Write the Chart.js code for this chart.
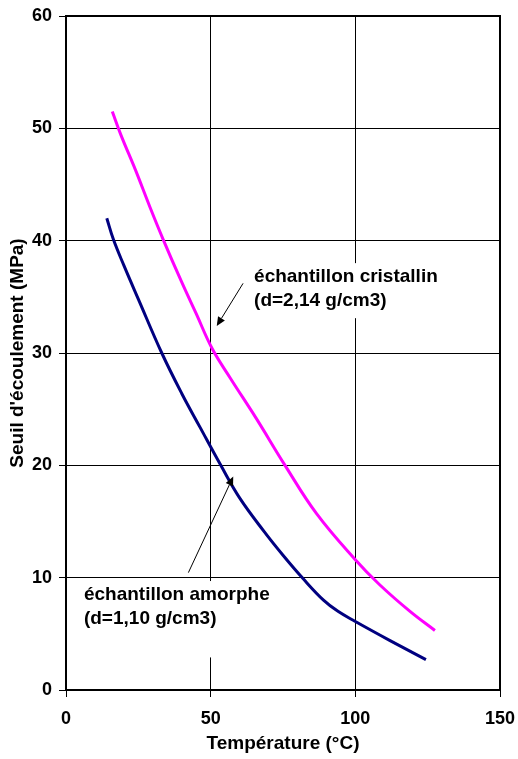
<!DOCTYPE html>
<html>
<head>
<meta charset="utf-8">
<script src="https://cdn.jsdelivr.net/npm/chart.js@4/dist/chart.umd.min.js"></script>
<style>
  body { margin: 0; background: #fff; }
  #wrap { width: 518px; height: 759px; position: relative; }
</style>
</head>
<body>
<div id="wrap"><canvas id="seuil-chart"></canvas></div>
<script>
// valeurs (temperature en degC, seuil en MPa)
var cristallinT = [16.0, 19, 24, 29, 33.6, 40, 45, 50.5, 56.7, 65.7, 75.7, 86.6, 100, 108.5, 118.9, 127.5];
var cristallinS = [51.5, 49.4, 46.3, 43.0, 40.1, 36.3, 33.5, 30.4, 27.8, 24.2, 20.0, 15.7, 11.6, 9.35, 7.0, 5.3];

var amorpheT = [14.1, 16.4, 20, 25, 33.1, 40, 46.3, 53.5, 60, 68.5, 75, 82, 89, 94, 100, 112, 124.4];
var amorpheS = [42.0, 40.1, 37.8, 34.8, 30.0, 26.4, 23.4, 20.0, 17.1, 14.1, 12.0, 9.9, 8.0, 7.0, 6.1, 4.4, 2.7];

var xTicks = [0, 50, 100, 150];
var yTicks = [0, 10, 20, 30, 40, 50, 60];

// etiquettes : position du texte et de la fleche en unites du graphique
var notes = [
  { lines: ['échantillon cristallin', '(d=2,14 g/cm3)'], x: 65, y: 36.3, box: [-2, 1.7, 55, -3.2],
    arrowFrom: [61.2, 36.2], arrowTo: [52.1, 32.4] },
  { lines: ['échantillon amorphe', '(d=1,10 g/cm3)'], x: 6.2, y: 8.0, box: [-2, 1.7, 73, -5.1],
    arrowFrom: [42.3, 10.45], arrowTo: [57.8, 19.0] }
];

function toPoints(xs, ys) {
  var pts = [];
  for (var i = 0; i < xs.length; i++) {
    pts.push({ x: xs[i], y: ys[i] });
  }
  return pts;
}

var fontFamily = "'Liberation Sans', Arial, sans-serif";
Chart.defaults.font.family = fontFamily;
Chart.defaults.color = '#000';

var framePlugin = {
  id: 'frame',
  afterDraw: function(chart) {
    var ctx = chart.ctx;
    var a = chart.chartArea;
    var xs = chart.scales.x, ys = chart.scales.y;

    // cadres blancs + textes + fleches
    notes.forEach(function(n) {
      var tx = xs.getPixelForValue(n.x);
      var ty = ys.getPixelForValue(n.y);
      var bx0 = xs.getPixelForValue(n.x + n.box[0]);
      var by0 = ys.getPixelForValue(n.y + n.box[1]);
      var bx1 = xs.getPixelForValue(n.x + n.box[2]);
      var by1 = ys.getPixelForValue(n.y + n.box[3]);
      ctx.save();
      ctx.fillStyle = '#fff';
      ctx.fillRect(bx0, by0, bx1 - bx0, by1 - by0);
      ctx.fillStyle = '#000';
      ctx.font = 'bold 19px ' + fontFamily;
      ctx.textBaseline = 'alphabetic';
      ctx.textAlign = 'left';
      n.lines.forEach(function(t, i) {
        ctx.fillText(t, tx, ty + i * 23.5);
      });

      var x1 = xs.getPixelForValue(n.arrowFrom[0]);
      var y1 = ys.getPixelForValue(n.arrowFrom[1]);
      var x2 = xs.getPixelForValue(n.arrowTo[0]);
      var y2 = ys.getPixelForValue(n.arrowTo[1]);
      var ang = Math.atan2(y2 - y1, x2 - x1);
      var len = 9, half = 4;
      var bx = x2 - len * Math.cos(ang), by = y2 - len * Math.sin(ang);
      ctx.strokeStyle = '#000';
      ctx.lineWidth = 1;
      ctx.beginPath();
      ctx.moveTo(x1, y1);
      ctx.lineTo(bx, by);
      ctx.stroke();
      ctx.beginPath();
      ctx.moveTo(x2, y2);
      ctx.lineTo(bx + half * Math.sin(ang), by - half * Math.cos(ang));
      ctx.lineTo(bx - half * Math.sin(ang), by + half * Math.cos(ang));
      ctx.closePath();
      ctx.fill();
      ctx.restore();
    });

    // cadre du trace
    ctx.save();
    ctx.strokeStyle = '#000';
    ctx.lineWidth = 2;
    ctx.strokeRect(a.left, a.top, a.right - a.left, a.bottom - a.top);
    ctx.restore();
  }
};

var ctx = document.getElementById('seuil-chart');

var myChart = new Chart(ctx, {
  type: 'scatter',
  data: {
    datasets: [
      {
        label: 'échantillon cristallin',
        data: toPoints(cristallinT, cristallinS),
        showLine: true,
        borderColor: '#FF00FF',
        borderWidth: 3,
        pointRadius: 0,
        tension: 0.4
      },
      {
        label: 'échantillon amorphe',
        data: toPoints(amorpheT, amorpheS),
        showLine: true,
        borderColor: '#000080',
        borderWidth: 3,
        pointRadius: 0,
        tension: 0.4
      }
    ]
  },
  options: {
    responsive: true,
    maintainAspectRatio: false,
    animation: false,
    layout: { padding: { top: 16, right: 18, left: 0, bottom: 0 } },
    plugins: {
      legend: { display: false },
      tooltip: { enabled: false }
    },
    scales: {
      x: {
        type: 'linear',
        min: xTicks[0],
        max: xTicks[xTicks.length - 1],
        afterBuildTicks: function(scale) {
          scale.ticks = xTicks.map(function(v) { return { value: v }; });
        },
        afterFit: function(scale) {
          scale.height = 69;
          scale.paddingRight = 0;
          scale.paddingLeft = 0;
        },
        ticks: {
          font: { size: 18, weight: 'bold' },
          color: '#000',
          padding: 11,
          maxRotation: 0
        },
        grid: { color: '#000', lineWidth: 1, tickLength: 7, tickColor: '#000' },
        border: { display: false },
        title: {
          display: true,
          text: 'Température (°C)',
          font: { size: 19, weight: 'bold' },
          color: '#000',
          padding: { top: 0, bottom: 4 }
        }
      },
      y: {
        type: 'linear',
        min: yTicks[0],
        max: yTicks[yTicks.length - 1],
        afterBuildTicks: function(scale) {
          scale.ticks = yTicks.map(function(v) { return { value: v }; });
        },
        afterFit: function(scale) {
          scale.width = 66;
          scale.paddingTop = 0;
          scale.paddingBottom = 0;
        },
        ticks: {
          font: { size: 18, weight: 'bold' },
          color: '#000',
          padding: 7
        },
        grid: { color: '#000', lineWidth: 1, tickLength: 7, tickColor: '#000' },
        border: { display: false },
        title: {
          display: true,
          text: "Seuil d'écoulement (MPa)",
          font: { size: 19, weight: 'bold' },
          color: '#000',
          padding: { top: 6, bottom: 0 }
        }
      }
    }
  },
  plugins: [framePlugin]
});
</script>
</body>
</html>
